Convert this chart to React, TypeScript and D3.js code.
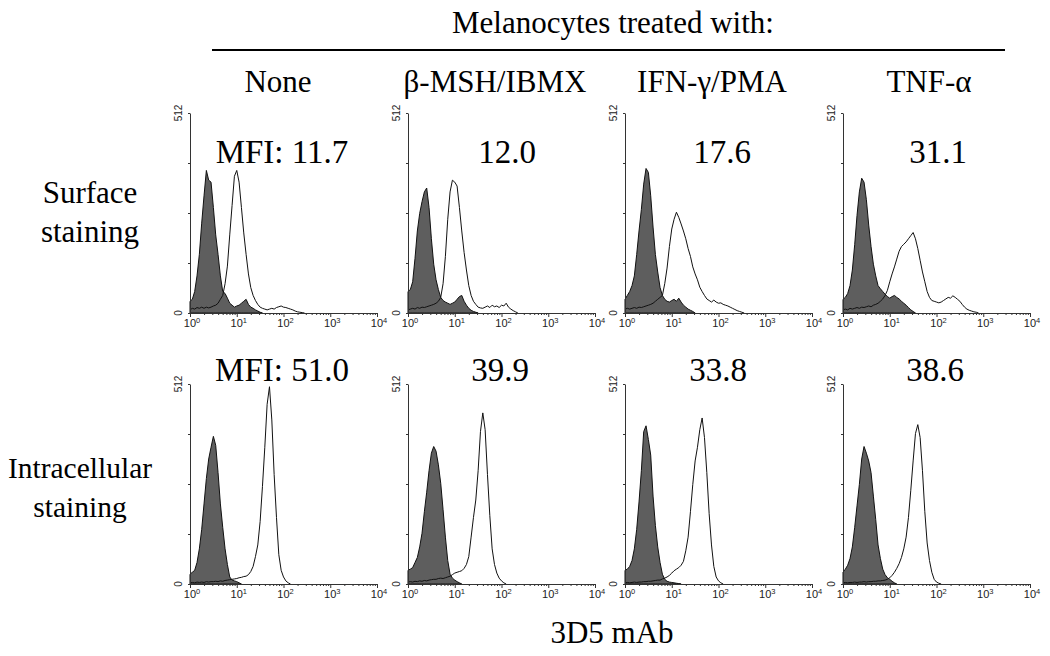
import React, {useEffect, useRef} from "react";
import * as d3 from "d3";

const treatments = ["None", "β-MSH/IBMX", "IFN-γ/PMA", "TNF-α"]
const rowLabels = [["Surface", "staining"], ["Intracellular", "staining"]]
const surfaceMfi = ["MFI: 11.7", "12.0", "17.6", "31.1"]
const intraMfi = ["MFI: 51.0", "39.9", "33.8", "38.6"]
const decades = [0, 1, 2, 3, 4]
const countTicks = [0, 128, 256, 384, 512]
const binStep = 0.05 // log10 width of one channel, first channel sits at 10^0

// surface staining, grey = isotype control, open = 3D5
const surfNoneCtrl = [30, 35, 55, 95, 150, 230, 300, 365, 340, 335, 270, 200, 150, 95, 55, 50, 38, 25, 20, 15, 18, 20, 25, 30, 35, 22, 15, 12, 8, 5, 2, 0]
const surfNone = [8, 12, 10, 14, 12, 15, 12, 15, 13, 15, 18, 20, 25, 35, 45, 75, 120, 200, 275, 350, 365, 335, 270, 205, 150, 100, 65, 45, 32, 22, 15, 12, 10, 8, 10, 12, 10, 14, 16, 18, 15, 14, 12, 10, 8, 5, 3, 2, 1, 0]
const surfMshCtrl = [55, 60, 80, 140, 210, 255, 285, 310, 320, 270, 190, 125, 85, 60, 40, 32, 28, 25, 22, 25, 28, 35, 42, 45, 30, 20, 12, 7, 4, 2, 0]
const surfMsh = [8, 10, 12, 10, 14, 12, 15, 14, 16, 18, 20, 22, 25, 30, 40, 75, 145, 240, 310, 340, 335, 325, 270, 210, 155, 110, 70, 45, 30, 22, 15, 13, 12, 15, 18, 14, 20, 16, 18, 14, 20, 18, 25, 15, 10, 6, 3, 0]
const surfIfnCtrl = [35, 45, 55, 70, 95, 150, 210, 265, 330, 370, 360, 300, 220, 150, 105, 65, 45, 35, 30, 28, 32, 35, 30, 38, 28, 20, 15, 10, 7, 4, 0]
const surfIfn = [10, 12, 10, 12, 14, 12, 15, 14, 16, 18, 20, 22, 25, 30, 35, 40, 45, 75, 115, 170, 215, 240, 258, 245, 228, 210, 190, 165, 145, 118, 100, 85, 66, 55, 45, 36, 32, 28, 33, 28, 25, 26, 22, 20, 18, 15, 12, 9, 6, 4, 2, 0]
const surfTnfCtrl = [35, 40, 50, 70, 110, 175, 250, 310, 345, 335, 290, 225, 170, 125, 95, 70, 62, 55, 48, 42, 38, 42, 45, 40, 36, 30, 25, 20, 14, 8, 4, 0]
const surfTnf = [8, 10, 8, 12, 10, 12, 14, 12, 15, 14, 16, 18, 16, 20, 22, 25, 30, 36, 45, 58, 80, 100, 118, 138, 158, 170, 176, 182, 190, 198, 206, 190, 165, 135, 105, 80, 55, 40, 32, 30, 28, 26, 28, 32, 36, 40, 38, 44, 40, 35, 30, 22, 15, 10, 7, 5, 3, 2, 0]

// intracellular staining
const intraNoneCtrl = [25, 30, 35, 55, 90, 140, 205, 270, 320, 350, 378, 355, 285, 205, 145, 90, 50, 18, 10, 8, 6, 3, 0]
const intraNone = [3, 4, 3, 5, 4, 5, 4, 6, 5, 6, 6, 7, 6, 8, 7, 9, 10, 11, 12, 13, 14, 16, 17, 19, 20, 24, 32, 45, 70, 100, 160, 250, 350, 460, 505, 420, 280, 170, 75, 35, 18, 8, 3, 0]
const intraMshCtrl = [35, 38, 42, 55, 68, 95, 130, 185, 235, 290, 335, 352, 340, 305, 258, 190, 120, 60, 25, 15, 10, 6, 3, 0]
const intraMsh = [5, 6, 5, 7, 6, 8, 7, 9, 8, 10, 11, 12, 12, 14, 15, 14, 16, 18, 20, 24, 28, 30, 32, 34, 40, 50, 70, 120, 170, 215, 290, 390, 438, 395, 280, 175, 90, 50, 28, 15, 8, 3, 0]
const intraIfnCtrl = [35, 38, 45, 60, 90, 140, 210, 290, 390, 405, 370, 330, 225, 150, 95, 55, 25, 12, 7, 5, 4, 3, 2, 1, 0]
const intraIfn = [3, 4, 3, 4, 5, 4, 5, 5, 6, 6, 7, 7, 8, 9, 10, 10, 13, 15, 18, 22, 28, 34, 38, 42, 48, 58, 85, 120, 185, 255, 315, 350, 395, 425, 375, 285, 180, 100, 45, 18, 8, 3, 0]
const intraTnfCtrl = [30, 38, 48, 65, 95, 145, 200, 255, 320, 352, 335, 315, 285, 225, 165, 100, 65, 38, 24, 16, 12, 7, 3, 0]
const intraTnf = [3, 4, 3, 4, 4, 5, 4, 5, 5, 6, 5, 6, 6, 7, 7, 8, 8, 9, 10, 12, 16, 22, 30, 40, 52, 68, 90, 120, 170, 240, 315, 385, 408, 375, 290, 185, 105, 60, 30, 12, 5, 2, 0]

const controls = [[surfNoneCtrl, surfMshCtrl, surfIfnCtrl, surfTnfCtrl], [intraNoneCtrl, intraMshCtrl, intraIfnCtrl, intraTnfCtrl]]
const stained = [[surfNone, surfMsh, surfIfn, surfTnf], [intraNone, intraMsh, intraIfn, intraTnf]]
const mfi = [surfaceMfi, intraMfi]

const serif = "Liberation Serif, Times New Roman, Times, DejaVu Serif, serif"
const sans = "Liberation Sans, Arial, sans-serif"

const App = () => {
    const svgRef = useRef(null)

    useEffect(() => {
        const svg = d3.select(svgRef.current)
        svg.selectAll("*").remove()

        const panelX = [190, 408, 625, 843]
        const panelY = [113, 384]
        const W = 187
        const H = 200

        const serifText = (x: number, y: number, size: number, s: string) =>
            svg.append("text").attr("x", x).attr("y", y).attr("text-anchor", "middle")
                .attr("font-family", serif).attr("font-size", size).attr("fill", "#000").text(s)

        // heading
        serifText(613, 33, 31, "Melanocytes treated with:")
        svg.append("line").attr("x1", 212).attr("x2", 1005).attr("y1", 50).attr("y2", 50)
            .attr("stroke", "#000").attr("stroke-width", 2)

        const headX = [278, 495, 712, 929]
        treatments.forEach((t, i) => serifText(headX[i], 92, 31, t))

        const rowLabelX = [90, 80]
        const rowLabelY = [203, 478]
        const rowSize = [31, 29.5]
        rowLabels.forEach((lines, r) => {
            lines.forEach((l, k) => serifText(rowLabelX[r], rowLabelY[r] + k * 39, rowSize[r], l))
        })

        const mfiX = [[282, 507, 722, 938], [282, 500, 718, 935]]
        const mfiY = [163, 381]

        // minor ticks of a log axis
        const minor: number[] = []
        for (let d = 0; d < 4; d++) for (let m = 2; m < 10; m++) minor.push(m * Math.pow(10, d))

        panelY.forEach((y0, r) => {
            panelX.forEach((x0, c) => {
                const x = d3.scaleLog().domain([1, 1e4]).range([x0, x0 + W])
                const y = d3.scaleLinear().domain([0, 512]).range([y0 + H, y0])
                const g = svg.append("g")

                const toPts = (arr: number[]) => arr.map((v, i) => [Math.pow(10, i * binStep), v] as [number, number])

                const area = d3.area<[number, number]>()
                    .x(d => x(d[0]))
                    .y0(y(0))
                    .y1(d => y(d[1]))
                const line = d3.line<[number, number]>()
                    .x(d => x(d[0]))
                    .y(d => y(d[1]))

                g.append("path").datum(toPts(controls[r][c]))
                    .attr("d", area).attr("fill", "#5e5e5e").attr("stroke", "#111").attr("stroke-width", 1)
                g.append("path").datum(toPts(stained[r][c]))
                    .attr("d", line).attr("fill", "none").attr("stroke", "#111").attr("stroke-width", 1)

                // x axis: minor ticks, then decades
                const xMinor = g.append("g").attr("transform", `translate(0,${y0 + H})`)
                    .call(d3.axisBottom(x).tickValues(minor).tickSize(2).tickFormat(() => "").tickSizeOuter(0))
                const xMajor = g.append("g").attr("transform", `translate(0,${y0 + H})`)
                    .call(d3.axisBottom(x).tickValues(decades.map(d => Math.pow(10, d))).tickSize(4).tickFormat(() => "").tickSizeOuter(0))
                xMajor.select(".domain").remove()
                g.selectAll(".tick line").attr("stroke", "#333")
                xMinor.select(".domain").attr("stroke", "#333")

                const yAx = g.append("g").attr("transform", `translate(${x0},0)`)
                    .call(d3.axisLeft(y).tickValues(countTicks).tickSize(2).tickFormat(() => "").tickSizeOuter(0))
                yAx.select(".domain").attr("stroke", "#333")
                yAx.selectAll(".tick line").attr("stroke", "#333")

                decades.forEach(d => {
                    const t = g.append("text").attr("x", x(Math.pow(10, d)) + 2).attr("y", y0 + H + 14)
                        .attr("text-anchor", "middle").attr("font-family", sans).attr("font-size", 11).attr("fill", "#222")
                    t.append("tspan").text("10")
                    t.append("tspan").attr("dy", -4).attr("font-size", 7.5).text(String(d))
                })

                ;[0, 512].forEach(v => {
                    g.append("text").attr("transform", `translate(${x0 - 8},${y(v)}) rotate(-90)`)
                        .attr("text-anchor", "middle").attr("font-family", sans).attr("font-size", 10).attr("fill", "#222")
                        .text(String(v))
                })

                g.append("text").attr("x", mfiX[r][c]).attr("y", mfiY[r]).attr("text-anchor", "middle")
                    .attr("font-family", serif).attr("font-size", 33).attr("fill", "#000").text(mfi[r][c])
            })
        })

        serifText(612, 643, 31, "3D5 mAb")
    }, [])

    return (
        <svg ref={svgRef} width={1050} height={656}
             style={{position: "absolute", left: 0, top: 0, background: "#fff"}}/>
    );
};

export default App;
